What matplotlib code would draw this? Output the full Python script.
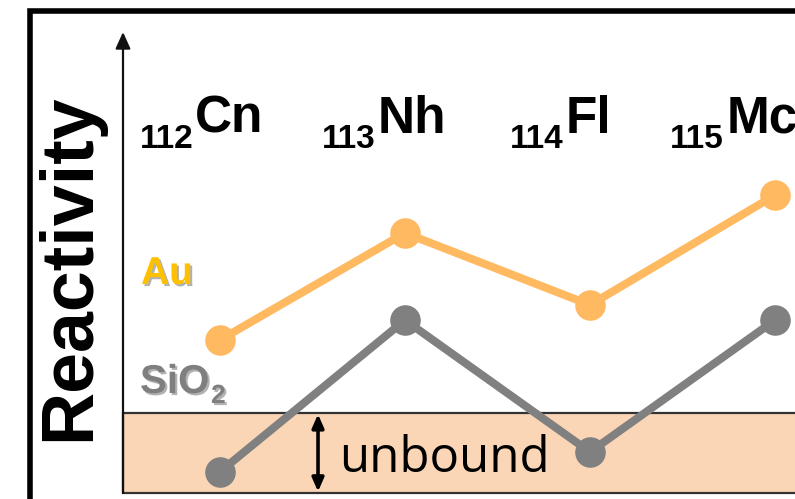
import matplotlib
matplotlib.use("Agg")
import matplotlib.pyplot as plt
import matplotlib.patheffects as pe
from matplotlib.patches import Rectangle

# Data -----------------------------------------------------------------
elements = ["Cn", "Nh", "Fl", "Mc"]
atomic_numbers = ["112", "113", "114", "115"]
au_reactivity = [3.32, 5.64, 4.08, 6.46]
sio2_reactivity = [0.46, 3.75, 0.89, 3.75]
unbound_limit = 1.74

# Styling ----------------------------------------------------------------
BOLD = ["Liberation Sans", "DejaVu Sans"]
ORANGE = "#FFB961"
GRAY = "#808080"
BAND = "#FBD6B6"

W, H = 795, 499
fig = plt.figure(figsize=(W / 100, H / 100), dpi=100)

def px(x, y):
    """Pixel position (from top-left) to figure fraction."""
    return x / W, 1 - y / H

left, bottom = px(123, 493)
_, top = px(0, 32)
ax = fig.add_axes([left, bottom, 1 - left, top - bottom])
ax.set_xlim(-0.524, 3.108)
ax.set_ylim(0, 10)
ax.axis("off")

# unbound band
ax.add_patch(Rectangle((ax.get_xlim()[0], 0), 10, unbound_limit,
                       facecolor=BAND, edgecolor="#333333", lw=1.6,
                       zorder=1, clip_on=False))

xs = list(range(len(elements)))
ax.plot(xs, au_reactivity, color=ORANGE, lw=5.8, marker="o", ms=21,
        solid_capstyle="round", zorder=3, clip_on=False)
ax.plot(xs, sio2_reactivity, color=GRAY, lw=5.8, marker="o", ms=21,
        solid_capstyle="round", zorder=3, clip_on=False)

# vertical axis with arrow
ax.annotate("", xy=(0, 1), xycoords="axes fraction", xytext=(0, 0),
            textcoords="axes fraction",
            arrowprops=dict(arrowstyle="-|>,head_length=1.0,head_width=0.45",
                            color="#111111", lw=1.6, shrinkA=0, shrinkB=0),
            zorder=4)

# double arrow for the unbound region
ax.annotate("", xy=(0.53, 0.0), xytext=(0.53, unbound_limit),
            arrowprops=dict(arrowstyle="<|-|>,head_length=0.8,head_width=0.35",
                            color="black", lw=2.6, shrinkA=1, shrinkB=1),
            zorder=4)
ax.text(0.645, unbound_limit * 0.42, "unbound", fontsize=35.5,
        family=["Open Sans", "DejaVu Sans"], va="center", ha="left",
        zorder=4)

# element labels
sub_left = [140, 322, 510, 670]
sym_left = [195, 378, 566, 727]
for n, s, xl, xs_ in zip(atomic_numbers, elements, sub_left, sym_left):
    fig.text(*px(xl, 148), n, fontsize=24, fontweight="bold",
             family=BOLD, va="baseline", ha="left")
    fig.text(*px(xs_, 133), s, fontsize=37, fontweight="bold",
             family=BOLD, va="baseline", ha="left")

# substrate labels
shadow = [pe.withSimplePatchShadow(offset=(1.5, -1.5), shadow_rgbFace="#555555",
                                   alpha=0.45)]
fig.text(*px(141, 284), "Au", fontsize=28, fontweight="bold", family=BOLD,
         color="#FFC000", va="baseline", ha="left", path_effects=shadow)
fig.text(*px(140, 393), "SiO", fontsize=29, fontweight="bold", family=BOLD,
         color="#7F7F7F", va="baseline", ha="left", path_effects=shadow)
fig.text(*px(211, 403), "2", fontsize=19, fontweight="bold", family=BOLD,
         color="#7F7F7F", va="baseline", ha="left", path_effects=shadow)

# y label
fig.text(*px(70, 267), "Reactivity", fontsize=53, fontweight="bold",
         family=BOLD, rotation=90, va="center", ha="center")

# outer frame
fx, fy = px(29.5, 11)
fig.add_artist(Rectangle((fx, -0.1), 1.2, fy + 0.1, transform=fig.transFigure,
                         fill=False, edgecolor="black", lw=4.0, clip_on=False))

fig.savefig("out.png", dpi=100)
